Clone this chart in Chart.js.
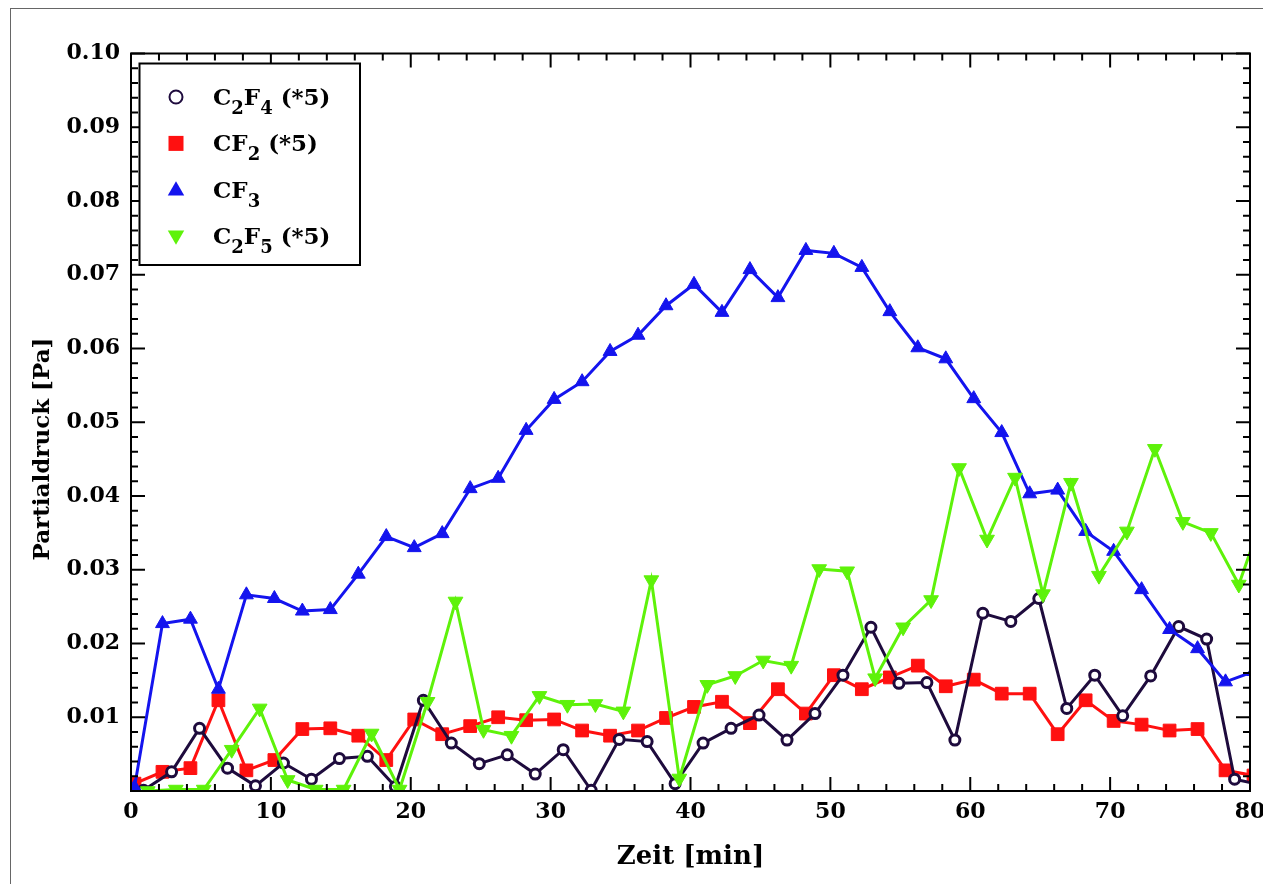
<!DOCTYPE html>
<html lang="de">
<head>
<meta charset="UTF-8">
<title>Partialdruck</title>
<script src="https://cdn.jsdelivr.net/npm/chart.js"></script>
<style>
  html, body { margin: 0; padding: 0; background: #fff; overflow: hidden; }
  #wrap { position: relative; width: 1263px; height: 884px; }
</style>
</head>
<body>
<div id="wrap"><canvas id="chart" width="1263" height="884"></canvas></div>
<script>
// Zeit [min] je Messreihe
const tCF = [0.25, 2.25, 4.25, 6.25, 8.25, 10.25, 12.25, 14.25, 16.25, 18.25, 20.25, 22.25, 24.25, 26.25,
  28.25, 30.25, 32.25, 34.25, 36.25, 38.25, 40.25, 42.25, 44.25, 46.25, 48.25, 50.25, 52.25, 54.25,
  56.25, 58.25, 60.25, 62.25, 64.25, 66.25, 68.25, 70.25, 72.25, 74.25, 76.25, 78.25, 80.25];
const tC2F4 = [0.9, 2.9, 4.9, 6.9, 8.9, 10.9, 12.9, 14.9, 16.9, 18.9, 20.9, 22.9, 24.9, 26.9,
  28.9, 30.9, 32.9, 34.9, 36.9, 38.9, 40.9, 42.9, 44.9, 46.9, 48.9, 50.9, 52.9, 54.9,
  56.9, 58.9, 60.9, 62.9, 64.9, 66.9, 68.9, 70.9, 72.9, 74.9, 76.9, 78.9, 80.9];
const tC2F5 = [1.2, 3.2, 5.2, 7.2, 9.2, 11.2, 13.2, 15.2, 17.2, 19.2, 21.2, 23.2, 25.2, 27.2,
  29.2, 31.2, 33.2, 35.2, 37.2, 39.2, 41.2, 43.2, 45.2, 47.2, 49.2, 51.2, 53.2, 55.2,
  57.2, 59.2, 61.2, 63.2, 65.2, 67.2, 69.2, 71.2, 73.2, 75.2, 77.2, 79.2, 81.2];

// Partialdruck [Pa]
const pC2F4 = [0.0001, 0.0026, 0.0085, 0.0031, 0.0007, 0.0038, 0.0016, 0.0044, 0.0047, 0.0006,
  0.0123, 0.0065, 0.0037, 0.0049, 0.0023, 0.0056, 0.0001, 0.0070, 0.0067, 0.0010,
  0.0065, 0.0085, 0.0103, 0.0069, 0.0105, 0.0157, 0.0222, 0.0146, 0.0147, 0.0069,
  0.0241, 0.0230, 0.0261, 0.0112, 0.0157, 0.0102, 0.0156, 0.0223, 0.0206, 0.0016, 0.0008];
const pCF2 = [0.0010, 0.0026, 0.0031, 0.0123, 0.0028, 0.0042, 0.0084, 0.0085, 0.0075, 0.0042,
  0.0097, 0.0077, 0.0088, 0.0100, 0.0096, 0.0097, 0.0082, 0.0075, 0.0082, 0.0099,
  0.0114, 0.0121, 0.0092, 0.0138, 0.0105, 0.0157, 0.0138, 0.0154, 0.0170, 0.0142,
  0.0151, 0.0132, 0.0132, 0.0077, 0.0123, 0.0095, 0.0090, 0.0082, 0.0084, 0.0028, 0.0021];
const pCF3 = [0.0005, 0.0227, 0.0233, 0.0138, 0.0266, 0.0261, 0.0244, 0.0246, 0.0294, 0.0345,
  0.0330, 0.0349, 0.0410, 0.0424, 0.0489, 0.0531, 0.0555, 0.0596, 0.0618, 0.0658,
  0.0687, 0.0649, 0.0707, 0.0669, 0.0733, 0.0729, 0.0710, 0.0650, 0.0601, 0.0586,
  0.0532, 0.0486, 0.0403, 0.0408, 0.0352, 0.0325, 0.0273, 0.0219, 0.0193, 0.0148, 0.0162];
const pC2F5 = [0.0000, 0.0002, 0.0002, 0.0056, 0.0112, 0.0015, 0.0002, 0.0002, 0.0078, 0.0002,
  0.0121, 0.0257, 0.0083, 0.0075, 0.0129, 0.0117, 0.0118, 0.0108, 0.0286, 0.0017,
  0.0144, 0.0156, 0.0177, 0.0170, 0.0301, 0.0298, 0.0153, 0.0222, 0.0259, 0.0438,
  0.0341, 0.0425, 0.0267, 0.0418, 0.0292, 0.0352, 0.0464, 0.0365, 0.0350, 0.0280, 0.0388];

const cDark = '#1e0b3d', cRed = '#ff1010', cBlue = '#1414ee', cGreen = '#5ef20a';
const FONT = '"DejaVu Serif", serif';

function pts(t, p) { return t.map((x, i) => ({ x: x, y: p[i] })); }

// legend entries: [text, isSubscript] pieces
const legendItems = [
  { parts: [['C', 0], ['2', 1], ['F', 0], ['4', 1], [' (*5)', 0]], style: 'circle', color: cDark },
  { parts: [['CF', 0], ['2', 1], [' (*5)', 0]], style: 'rect', color: cRed },
  { parts: [['CF', 0], ['3', 1]], style: 'up', color: cBlue },
  { parts: [['C', 0], ['2', 1], ['F', 0], ['5', 1], [' (*5)', 0]], style: 'down', color: cGreen }
];

function triangle(ctx, x, y, r, down) {
  const s = down ? -1 : 1;
  ctx.beginPath();
  ctx.moveTo(x, y - s * r);
  ctx.lineTo(x + r * 0.866, y + s * r * 0.5);
  ctx.lineTo(x - r * 0.866, y + s * r * 0.5);
  ctx.closePath();
  ctx.fill();
}

const decor = {
  id: 'decor',
  beforeDraw(chart) {
    const ctx = chart.ctx;
    ctx.save();
    ctx.fillStyle = '#fff';
    ctx.fillRect(0, 0, chart.width, chart.height);
    ctx.strokeStyle = '#666';
    ctx.lineWidth = 1;
    ctx.strokeRect(10.5, 8.5, 1400, 1000);
    ctx.restore();
  },
  afterDraw(chart) {
    const ctx = chart.ctx, a = chart.chartArea, xs = chart.scales.x, ys = chart.scales.y;
    ctx.save();
    ctx.strokeStyle = '#000';
    ctx.lineWidth = 2;
    ctx.beginPath();
    for (let k = 0; k <= 40; k++) {
      const px = xs.getPixelForValue(k * 2);
      const len = k % 5 === 0 ? 14 : 7;
      ctx.moveTo(px, a.bottom); ctx.lineTo(px, a.bottom - len);
      ctx.moveTo(px, a.top); ctx.lineTo(px, a.top + len);
    }
    for (let k = 0; k <= 50; k++) {
      const py = ys.getPixelForValue(k * 0.002);
      const len = k % 5 === 0 ? 14 : 7;
      ctx.moveTo(a.left, py); ctx.lineTo(a.left + len, py);
      ctx.moveTo(a.right, py); ctx.lineTo(a.right - len, py);
    }
    ctx.stroke();
    ctx.strokeRect(a.left, a.top, a.right - a.left, a.bottom - a.top);

    // legend box
    ctx.fillStyle = '#fff';
    ctx.fillRect(139, 63, 221, 202);
    ctx.strokeRect(139.5, 63.5, 220.5, 201.5);
    legendItems.forEach((it, i) => {
      const base = 105 + i * 46.4;
      const my = base - 8;
      const mx = 176;
      ctx.fillStyle = it.color;
      ctx.strokeStyle = it.color;
      if (it.style === 'circle') {
        ctx.lineWidth = 2;
        ctx.beginPath(); ctx.arc(mx, my, 6.5, 0, Math.PI * 2); ctx.stroke();
      } else if (it.style === 'rect') {
        ctx.fillRect(mx - 7.5, my - 7.5, 15, 15);
      } else {
        triangle(ctx, mx, my + (it.style === 'up' ? 1 : -1), 9.5, it.style === 'down');
      }
      ctx.fillStyle = '#000';
      ctx.textBaseline = 'alphabetic';
      ctx.textAlign = 'left';
      let x = 213;
      it.parts.forEach(([txt, sub]) => {
        ctx.font = 'bold ' + (sub ? 18 : 23) + 'px ' + FONT;
        ctx.fillText(txt, x, sub ? base + 9 : base);
        x += ctx.measureText(txt).width;
      });
    });

    // axis titles
    ctx.fillStyle = '#000';
    ctx.font = 'bold 26px ' + FONT;
    ctx.textAlign = 'center';
    ctx.textBaseline = 'alphabetic';
    ctx.fillText('Zeit [min]', (a.left + a.right) / 2, 864);
    ctx.translate(49, 449);
    ctx.rotate(-Math.PI / 2);
    ctx.font = 'bold 23px ' + FONT;
    ctx.fillText('Partialdruck [Pa]', 0, 0);
    ctx.restore();
  }
};

new Chart(document.getElementById('chart'), {
  type: 'line',
  data: {
    datasets: [
      {
        label: 'C2F5 (*5)', data: pts(tC2F5, pC2F5), borderColor: cGreen, backgroundColor: cGreen,
        borderWidth: 3, pointStyle: 'triangle', pointRotation: 180, pointRadius: 8.5,
        pointBackgroundColor: cGreen, pointBorderColor: cGreen, pointBorderWidth: 1, order: 1
      },
      {
        label: 'CF3', data: pts(tCF, pCF3), borderColor: cBlue, backgroundColor: cBlue,
        borderWidth: 3, pointStyle: 'triangle', pointRadius: 8,
        pointBackgroundColor: cBlue, pointBorderColor: cBlue, pointBorderWidth: 1, order: 2
      },
      {
        label: 'C2F4 (*5)', data: pts(tC2F4, pC2F4), borderColor: cDark, backgroundColor: '#fff',
        borderWidth: 3, pointStyle: 'circle', pointRadius: 5,
        pointBackgroundColor: '#fff', pointBorderColor: cDark, pointBorderWidth: 3, order: 3
      },
      {
        label: 'CF2 (*5)', data: pts(tCF, pCF2), borderColor: cRed, backgroundColor: cRed,
        borderWidth: 3, pointStyle: 'rect', pointRadius: 9,
        pointBackgroundColor: cRed, pointBorderColor: cRed, pointBorderWidth: 1, order: 4
      }
    ]
  },
  options: {
    responsive: false,
    animation: false,
    devicePixelRatio: 1,
    layout: { padding: { top: 53.5, right: 13, bottom: 0, left: 0 } },
    plugins: { legend: { display: false }, tooltip: { enabled: false } },
    elements: { line: { tension: 0 } },
    scales: {
      x: {
        type: 'linear', min: 0, max: 80,
        ticks: { stepSize: 10, color: '#000', padding: 8, maxRotation: 0, autoSkip: false,
          font: { family: FONT, size: 22, weight: 'bold' } },
        grid: { display: false, drawTicks: false },
        border: { display: false },
        afterFit(s) { s.height = 93; s.paddingLeft = 0; s.paddingRight = 0; }
      },
      y: {
        min: 0, max: 0.1,
        ticks: { stepSize: 0.01, color: '#000', padding: 11,
          callback: v => (v < 0.001 ? '' : v.toFixed(2)),
          font: { family: FONT, size: 22, weight: 'bold' } },
        grid: { display: false, drawTicks: false },
        border: { display: false },
        afterFit(s) { s.width = 131; s.paddingTop = 0; s.paddingBottom = 0; }
      }
    }
  },
  plugins: [decor]
});
</script>
</body>
</html>
